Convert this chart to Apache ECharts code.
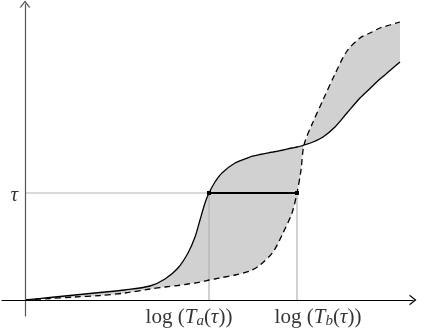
<!DOCTYPE html>
<html>
<head>
<meta charset="utf-8">
<script src="https://cdn.jsdelivr.net/npm/echarts@6/dist/echarts.min.js"></script>
<style>
  html, body { margin: 0; padding: 0; background: #fff; }
  #chart { width: 424px; height: 332px; }
</style>
</head>
<body>
<div id="chart"></div>
<script>
// x = log(t), y = level (both in arbitrary units, origin at 0,0)
const xs = [0, 25, 50, 75, 100, 125, 140, 153, 163, 170, 175, 180, 184, 190, 197, 210, 225, 235, 248, 258, 267, 272, 276, 279, 288, 298, 310, 322, 335, 345, 355, 365, 375]
const solidYs = [0, 2.5, 5, 7.5, 10, 14, 21, 32, 47, 63, 80, 97, 107, 118, 127, 137, 143, 145.5, 148, 150, 152, 153, 154, 155, 158, 163, 173, 187, 202, 211.5, 221, 229.5, 238]
const dashedYs = [0, 1.5, 3, 4.5, 7, 11, 13, 14.5, 16, 17, 18, 19, 20, 21, 22.5, 25, 29, 35, 48, 67, 87, 107, 130, 155, 178, 200, 226, 249, 262, 267, 272, 275, 278]
const tau = 107
const Ta = 184 // solid curve reaches tau
const Tb = 272 // dashed curve reaches tau

const serif = "'Liberation Serif', 'DejaVu Serif', serif"
const arrow = 'path://M0,7 L5.5,0 L11,7 L9.4,7 L5.5,2 L1.6,7 Z' // open chevron

const pairs = (ys) => xs.map((x, i) => [x, ys[i]])
const upper = xs.map((x, i) => [x, Math.max(solidYs[i], dashedYs[i])])
const lower = xs.map((x, i) => [x, Math.min(solidYs[i], dashedYs[i])])

const axisCommon = (color) => { // shared axis look: only the line and its arrow
  return {
    type: 'value',
    z: 10,
    axisLine: {
      show: true,
      onZero: true,
      symbol: ['none', arrow],
      symbolSize: [11, 7],
      lineStyle: { color: color, width: 1.2 }
    },
    axisTick: { show: false },
    axisLabel: { show: false },
    splitLine: { show: false }
  }
}

const labelRich = {
  r: { fontFamily: serif, fontSize: 21, color: '#000', lineHeight: 24 },
  i: { fontFamily: serif, fontSize: 21, fontStyle: 'italic', color: '#000', lineHeight: 24 },
  s: { fontFamily: serif, fontSize: 15, fontStyle: 'italic', color: '#000', verticalAlign: 'bottom', lineHeight: 24 }
}

let option = {
  animation: false,
  backgroundColor: '#fff',
  grid: { left: 2, right: 11, top: 4, bottom: 16 },
  xAxis: { ...axisCommon('#000'), min: -23, max: 388 },
  yAxis: { ...axisCommon('#555'), min: -16, max: 296 },
  series: [
    { // gray under the upper envelope
      type: 'line',
      data: upper,
      smooth: 0.3,
      symbol: 'none',
      lineStyle: { opacity: 0 },
      areaStyle: { color: '#d1d1d1', opacity: 1 },
      silent: true,
      z: 1
    },
    { // white under the lower envelope leaves only the band
      type: 'line',
      data: lower,
      smooth: 0.3,
      symbol: 'none',
      lineStyle: { opacity: 0 },
      areaStyle: { color: '#fff', opacity: 1 },
      silent: true,
      z: 1
    },
    {
      type: 'line',
      data: [[0, tau], [Tb, tau], [Tb, 0]],
      symbol: 'none',
      lineStyle: { color: '#b3b3b3', width: 1.2 },
      z: 2
    },
    {
      type: 'line',
      data: [[Ta, 0], [Ta, tau]],
      symbol: 'none',
      lineStyle: { color: '#b3b3b3', width: 1.2 },
      z: 2
    },
    { // solid curve
      type: 'line',
      data: pairs(solidYs),
      smooth: 0.3,
      symbol: 'none',
      lineStyle: { color: '#000', width: 1.3 },
      z: 3
    },
    { // dashed curve
      type: 'line',
      data: pairs(dashedYs),
      smooth: 0.3,
      symbol: 'none',
      lineStyle: { color: '#000', width: 1.3, type: [6, 4] },
      z: 3
    },
    { // bold segment at level tau
      type: 'line',
      data: [[Ta, tau], [Tb, tau]],
      symbol: 'rect',
      symbolSize: 4,
      showSymbol: true,
      itemStyle: { color: '#000' },
      lineStyle: { color: '#000', width: 2.2 },
      z: 4
    },
    { // text labels
      type: 'scatter',
      symbolSize: 0,
      silent: true,
      z: 5,
      label: { show: true, position: 'inside', rich: labelRich },
      data: [
        { value: [0, tau], label: { position: 'left', distance: 7, offset: [0, 2], formatter: '{i|τ}' } },
        { value: [Ta, 0], label: { offset: [-20, 17], formatter: '{r|log (}{i|T}{s|a}{r|(}{i|τ}{r|))}' } },
        { value: [Tb, 0], label: { offset: [21, 17], formatter: '{r|log (}{i|T}{s|b}{r|(}{i|τ}{r|))}' } }
      ]
    }
  ]
}

let chart = echarts.init(document.getElementById('chart'), null, { renderer: 'canvas' })
chart.setOption(option)
</script>
</body>
</html>
